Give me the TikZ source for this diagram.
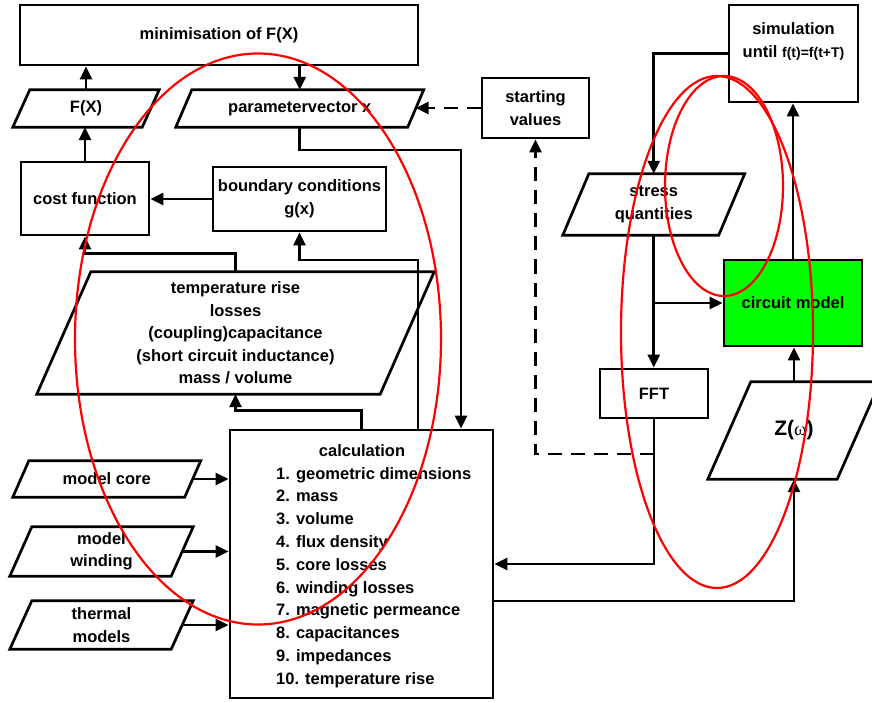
\documentclass[tikz,border=0pt]{standalone}
\usepackage{fontspec}
\setmainfont{Liberation Sans}
\newfontfamily\serifgreek{Liberation Serif}
\usetikzlibrary{arrows.meta,calc}
\definecolor{cmgreen}{RGB}{0,255,0}
\newcommand\drawpara[2]{%
  \draw[line width=2.7pt, line join=miter]
    ($(#1.north west)+(#2/2,0)$) -- ($(#1.north east)+(#2/2,0)$) --
    ($(#1.south east)-(#2/2,0)$) -- ($(#1.south west)-(#2/2,0)$) -- cycle;}
\begin{document}
\begin{tikzpicture}[x=1pt, y=-1pt,
  every node/.style={font=\fontsize{16.5}{22.5}\selectfont\bfseries, align=center, inner sep=0pt},
  box/.style={draw, line width=2.7pt, rectangle},
  para/.style={rectangle, draw=none},
  txt/.style={rectangle},
  arr/.style={line width=2.7pt, -{Triangle[length=13pt,width=12pt]}},
  darr/.style={arr, dash pattern=on 14pt off 9pt},
  ring/.style={draw=red, line width=2.2pt}]
\useasboundingbox (0,0) rectangle (872,703);
\fill[white] (0,0) rectangle (872,703);
\clip (0,0) rectangle (872,703);

% nodes
\node[box, minimum width=398pt, minimum height=60pt] (min) at (219,35) {minimisation of F(X)};
\node[para, minimum width=129pt, minimum height=37pt] (fx) at (86,108.5) {F(X)};
\drawpara{fx}{17}
\node[para, minimum width=231.5pt, minimum height=37pt] (param) at (299.75,108.5) {parametervector x};
\drawpara{param}{16}
\node[box, minimum width=128pt, minimum height=73pt] (cost) at (85,198.5) {cost function};
\node[box, minimum width=173pt, minimum height=64pt] (bound) at (299.5,199) {boundary conditions\\g(x)};
\node[box, minimum width=107pt, minimum height=60pt] (start) at (535.5,108) {starting\\values};
\node[box, minimum width=129pt, minimum height=97pt] (sim) at (793.5,53.5) {};
\node[txt] (simtext) at (793.5,41.5) {simulation\\until {\fontsize{14}{22.5}\selectfont f(t)=f(t+T)}};
\node[para, minimum width=155.5pt, minimum height=61pt] (stress) at (653.75,204.5) {stress\\quantities};
\drawpara{stress}{26}
\node[box, fill=cmgreen, minimum width=138pt, minimum height=86pt] (circuit) at (793,303) {circuit model};
\node[box, minimum width=108pt, minimum height=49pt] (fft) at (654,393.5) {FFT};
\node[para, minimum width=129pt, minimum height=97pt] (zw) at (794,430.5)
  {\fontsize{21}{24}\selectfont Z({\serifgreek\mdseries\fontsize{19}{24}\selectfont ω})};
\drawpara{zw}{43}
\node[para, minimum width=343pt, minimum height=122pt] (res) at (235.5,333)
  {temperature rise\\losses\\(coupling)capacitance\\(short circuit inductance)\\mass / volume};
\drawpara{res}{54}
\node[box, minimum width=263pt, minimum height=268pt] (calc) at (361.5,564) {};
\node[txt] (calctitle) at (362,451) {calculation};
\node[txt, anchor=north west, align=left, font=\fontsize{16.5}{22.8}\selectfont\bfseries] (calclist) at (276,467)
  {1. geometric dimensions\\2. mass\\3. volume\\4. flux density\\5. core losses\\6. winding losses\\7. magnetic permeance\\8. capacitances\\9. impedances\\10. temperature rise};
\node[para, minimum width=171.5pt, minimum height=36pt] (core) at (106.75,479) {model core};
\drawpara{core}{16}
\node[para, minimum width=161pt, minimum height=49pt] (wind) at (101.5,551.5) {model\\winding};
\drawpara{wind}{22}
\node[para, minimum width=161pt, minimum height=48pt] (therm) at (101.5,625) {thermal\\models};
\drawpara{therm}{22}

% connectors
\draw[arr] (fx.north) -- (fx.north |- min.south);
\draw[arr] (param.north |- min.south) -- (param.north);
\draw[arr] (cost.north) -- (cost.north |- fx.south);
\draw[arr] (bound.west) -- (bound.west -| cost.east);
\draw[darr] (start.west) -- (start.west -| param.east);
\coordinate (pv) at (461,150);
\draw[arr] (param.south) |- (pv) -- (pv |- calc.north);
\draw[arr] (res.north) -- ++(0,-18) -| (cost.south);
\coordinate (bc) at (418,260);
\draw[arr] (bc |- calc.north) -- (bc) -| (bound.south);
\draw[arr] (calc.north) -- ++(0,-18) -| (res.south);
\draw[arr] (core.east) -- (core.east -| calc.west);
\draw[arr] (wind.east) -- (wind.east -| calc.west);
\draw[arr] (therm.east) -- (therm.east -| calc.west);
\draw[arr] (sim.west) -| (stress.north);
\draw[arr] (circuit.north) -- (circuit.north |- sim.south);
\draw[arr] (stress.south) -- (stress.south |- fft.north);
\draw[arr] (stress.south |- circuit.west) -- (circuit.west);
\draw[arr] (zw.north) -- (zw.north |- circuit.south);
\draw[arr] (fft.south) |- (calc.east);
\coordinate (zo) at (493,601);
\draw[arr] (zo) -| (zw.south);
\coordinate (dd) at (654,454);
\draw[darr] (dd) -| (start.south);

% red annotation ellipses
\draw[ring] (258,339) ellipse [x radius=183pt, y radius=285.5pt];
\draw[ring] (717,332) ellipse [x radius=96pt, y radius=256pt];
\draw[ring] (724,186) ellipse [x radius=59pt, y radius=110pt];
\end{tikzpicture}
\end{document}
